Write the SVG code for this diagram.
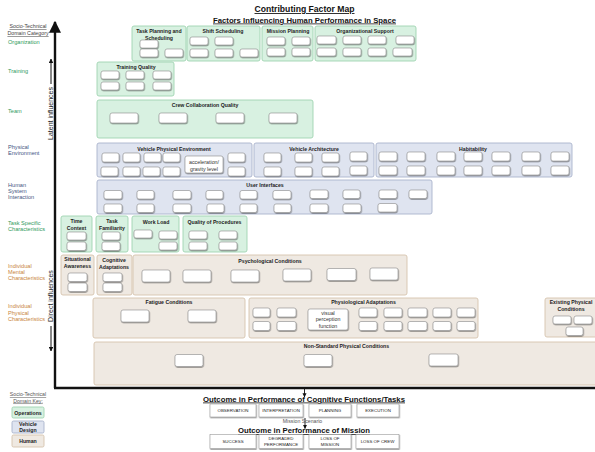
<svg xmlns="http://www.w3.org/2000/svg" width="595" height="452" viewBox="0 0 595 452">
<defs>
  <filter id="sh" x="-30%" y="-30%" width="160%" height="180%">
    <feDropShadow dx="0.5" dy="0.9" stdDeviation="0.5" flood-color="#000" flood-opacity="0.45"/>
  </filter>
  <marker id="ah" viewBox="0 0 10 10" refX="9" refY="5" markerWidth="4.5" markerHeight="4.5" orient="auto">
    <path d="M0,0 L10,5 L0,10 z" fill="#111"/>
  </marker>
  <marker id="ahs" viewBox="0 0 10 10" refX="9" refY="5" markerWidth="5" markerHeight="5" orient="auto">
    <path d="M0,0 L10,5 L0,10 z" fill="#111"/>
  </marker>
</defs>
<style>
  text { font-family: "Liberation Sans", Arial, sans-serif; }
  .ops { fill: #d8f1e1; stroke: #9fd4b1; stroke-width: 0.9; }
  .veh { fill: #dfe4f0; stroke: #a9b3cc; stroke-width: 0.9; }
  .hum { fill: #efe9e2; stroke: #d6c3ad; stroke-width: 0.9; }
  .b { fill: #fff; stroke: #8a8a8a; stroke-width: 0.6; filter: url(#sh); }
  .gt { font-size: 5.2px; font-weight: bold; fill: #222; text-anchor: middle; }
  .bt { font-size: 5.3px; fill: #333; text-anchor: middle; }
  .cat { font-size: 5.6px; }
  .cg { fill: #2f9a5c; }
  .cb { fill: #44557f; }
  .ch { fill: #c8843c; }
  .ttl { font-weight: bold; fill: #111; text-anchor: middle; text-decoration: underline; }
  .btn { fill: #fff; stroke: #999; stroke-width: 0.6; filter: url(#sh); }
  .btx { font-size: 4.4px; fill: #222; text-anchor: middle; }
  .ax { stroke: #111; fill: none; }
</style>

<!-- headings -->
<text class="ttl" x="304.5" y="12" font-size="8.6" textLength="100" lengthAdjust="spacingAndGlyphs">Contributing Factor Map</text>
<text class="ttl" x="304.5" y="22.5" font-size="7.9" textLength="183" lengthAdjust="spacingAndGlyphs">Factors Influencing Human Performance in Space</text>

<!-- socio-technical domain categories -->
<g id="categories">
  <text x="28" y="28" font-size="5.3" fill="#444" text-anchor="middle" text-decoration="underline">Socio-Technical</text>
  <text x="28" y="35" font-size="5.3" fill="#444" text-anchor="middle" text-decoration="underline">Domain Category</text>
  <text class="cat cg" x="8" y="43.5">Organization</text>
  <text class="cat cg" x="8" y="72.5">Training</text>
  <text class="cat cg" x="8" y="112.5">Team</text>
  <text class="cat cb" x="8" y="149">Physical</text>
  <text class="cat cb" x="8" y="155">Environment</text>
  <text class="cat cb" x="8" y="187">Human</text>
  <text class="cat cb" x="8" y="193">System</text>
  <text class="cat cb" x="8" y="199">Interaction</text>
  <text class="cat cg" x="8" y="225">Task Specific</text>
  <text class="cat cg" x="8" y="231">Characteristics</text>
  <text class="cat ch" x="8" y="267.5">Individual</text>
  <text class="cat ch" x="8" y="273.5">Mental</text>
  <text class="cat ch" x="8" y="280">Characteristics</text>
  <text class="cat ch" x="8" y="308">Individual</text>
  <text class="cat ch" x="8" y="314.5">Physical</text>
  <text class="cat ch" x="8" y="321">Characteristics</text>
</g>

<!-- axes and influence arrows -->
<g id="connectors">
  <path class="ax" d="M55,388 L55,22" stroke-width="2.4" marker-end="url(#ahs)"/>
  <path class="ax" d="M54,388 L596,388" stroke-width="2.4"/>
  <path class="ax" d="M51,84 L51,59" stroke-width="1" marker-end="url(#ah)"/>
  <path class="ax" d="M51,326 L51,351" stroke-width="1" marker-end="url(#ah)"/>
  <path class="ax" d="M304.5,389 L304.5,397" stroke-width="0.9" marker-end="url(#ah)"/>
  <path class="ax" d="M305,418 L305,428.5" stroke-width="0.9" marker-end="url(#ah)"/>
</g>
<text x="53" y="113.5" font-size="7" fill="#222" text-anchor="middle" transform="rotate(-90 53 113.5)">Latent influences</text>
<text x="53" y="296" font-size="7" fill="#222" text-anchor="middle" transform="rotate(-90 53 296)">Direct influences</text>

<!-- Organization -->
<g id="task-planning">
  <rect class="ops" x="132" y="26" width="54" height="35" rx="2"/>
  <text class="gt" x="159" y="33">Task Planning and</text>
  <text class="gt" x="159" y="39.5">Scheduling</text>
  <rect class="b" x="140" y="40" width="18" height="8" rx="2"/>
  <rect class="b" x="140" y="49" width="18" height="8" rx="2"/>
  <rect class="b" x="165" y="49" width="18" height="8" rx="2"/>
</g>
<g id="shift-scheduling">
  <rect class="ops" x="187" y="26" width="73" height="35" rx="2"/>
  <text class="gt" x="223" y="33">Shift Scheduling</text>
  <rect class="b" x="190" y="37" width="18" height="8" rx="2"/>
  <rect class="b" x="215" y="37" width="18" height="8" rx="2"/>
  <rect class="b" x="190" y="49" width="18" height="8" rx="2"/>
  <rect class="b" x="215" y="49" width="18" height="8" rx="2"/>
  <rect class="b" x="240" y="49" width="18" height="8" rx="2"/>
</g>
<g id="mission-planning">
  <rect class="ops" x="262" y="26" width="51" height="35" rx="2"/>
  <text class="gt" x="288" y="33">Mission Planning</text>
  <rect class="b" x="267" y="37" width="18" height="8" rx="2"/>
  <rect class="b" x="292" y="37" width="18" height="8" rx="2"/>
  <rect class="b" x="267" y="48" width="18" height="8" rx="2"/>
  <rect class="b" x="292" y="48" width="18" height="8" rx="2"/>
</g>
<g id="organizational-support">
  <rect class="ops" x="315" y="26" width="101" height="35" rx="2"/>
  <text class="gt" x="365" y="33">Organizational Support</text>
  <rect class="b" x="317" y="36" width="19" height="8" rx="2"/>
  <rect class="b" x="343" y="36" width="18" height="8" rx="2"/>
  <rect class="b" x="368" y="36" width="18" height="8" rx="2"/>
  <rect class="b" x="396" y="36" width="18" height="8" rx="2"/>
  <rect class="b" x="317" y="48" width="19" height="8" rx="2"/>
  <rect class="b" x="343" y="48" width="18" height="8" rx="2"/>
  <rect class="b" x="368" y="48" width="18" height="8" rx="2"/>
  <rect class="b" x="393" y="48" width="19" height="8" rx="2"/>
</g>

<!-- Training -->
<g id="training-quality">
  <rect class="ops" x="97" y="62" width="77" height="34" rx="2"/>
  <text class="gt" x="136" y="68.5">Training Quality</text>
  <rect class="b" x="101" y="71" width="18" height="8" rx="2"/>
  <rect class="b" x="126" y="71" width="18" height="8" rx="2"/>
  <rect class="b" x="153" y="71" width="18" height="8" rx="2"/>
  <rect class="b" x="101" y="82" width="18" height="8" rx="2"/>
  <rect class="b" x="126" y="82" width="18" height="8" rx="2"/>
  <rect class="b" x="153" y="82" width="18" height="8" rx="2"/>
</g>

<!-- Team -->
<g id="crew-collaboration">
  <rect class="ops" x="97" y="100" width="216" height="38" rx="2"/>
  <text class="gt" x="205" y="107">Crew Collaboration Quality</text>
  <rect class="b" x="110" y="113" width="28" height="10" rx="2"/>
  <rect class="b" x="159" y="113" width="28" height="10" rx="2"/>
  <rect class="b" x="216" y="113" width="28" height="10" rx="2"/>
  <rect class="b" x="269" y="113" width="28" height="10" rx="2"/>
</g>

<!-- Physical Environment -->
<g id="vehicle-physical-environment">
  <rect class="veh" x="97" y="143" width="155" height="34" rx="2"/>
  <text class="gt" x="174" y="151">Vehicle Physical Environment</text>
  <rect class="b" x="102" y="153" width="17" height="9" rx="2"/>
  <rect class="b" x="123" y="153" width="17" height="9" rx="2"/>
  <rect class="b" x="144" y="153" width="17" height="9" rx="2"/>
  <rect class="b" x="163" y="153" width="17" height="9" rx="2"/>
  <rect class="b" x="101" y="167" width="17" height="9" rx="2"/>
  <rect class="b" x="123" y="167" width="17" height="9" rx="2"/>
  <rect class="b" x="143" y="167" width="17" height="9" rx="2"/>
  <rect class="b" x="163" y="167" width="17" height="9" rx="2"/>
  <rect class="b" x="185" y="156" width="38" height="17" rx="2"/>
  <text class="bt" x="204" y="164">acceleration/</text>
  <text class="bt" x="204" y="170.5">gravity level</text>
  <rect class="b" x="228" y="153" width="17" height="9" rx="2"/>
  <rect class="b" x="228" y="167" width="17" height="9" rx="2"/>
</g>
<g id="vehicle-architecture">
  <rect class="veh" x="254" y="143" width="120" height="34" rx="2"/>
  <text class="gt" x="314" y="151">Vehicle Architecture</text>
  <rect class="b" x="264" y="153" width="17" height="9" rx="2"/>
  <rect class="b" x="295" y="153" width="17" height="9" rx="2"/>
  <rect class="b" x="322" y="153" width="17" height="9" rx="2"/>
  <rect class="b" x="350" y="152" width="17" height="9" rx="2"/>
  <rect class="b" x="264" y="167" width="17" height="9" rx="2"/>
  <rect class="b" x="295" y="167" width="17" height="9" rx="2"/>
  <rect class="b" x="322" y="167" width="17" height="9" rx="2"/>
  <rect class="b" x="350" y="166" width="17" height="9" rx="2"/>
</g>
<g id="habitability">
  <rect class="veh" x="376" y="143" width="196" height="34" rx="2"/>
  <text class="gt" x="473" y="151">Habitability</text>
  <rect class="b" x="379" y="152" width="18" height="9" rx="2"/>
  <rect class="b" x="407" y="152" width="18" height="9" rx="2"/>
  <rect class="b" x="437" y="152" width="18" height="9" rx="2"/>
  <rect class="b" x="464" y="152" width="18" height="9" rx="2"/>
  <rect class="b" x="492" y="152" width="18" height="9" rx="2"/>
  <rect class="b" x="522" y="152" width="18" height="9" rx="2"/>
  <rect class="b" x="551" y="152" width="18" height="9" rx="2"/>
  <rect class="b" x="379" y="166" width="18" height="9" rx="2"/>
  <rect class="b" x="407" y="166" width="18" height="9" rx="2"/>
  <rect class="b" x="437" y="166" width="18" height="9" rx="2"/>
  <rect class="b" x="464" y="166" width="18" height="9" rx="2"/>
  <rect class="b" x="492" y="166" width="18" height="9" rx="2"/>
  <rect class="b" x="522" y="166" width="18" height="9" rx="2"/>
  <rect class="b" x="551" y="166" width="18" height="9" rx="2"/>
</g>

<!-- Human System Interaction -->
<g id="user-interfaces">
  <rect class="veh" x="97" y="180" width="335" height="34" rx="2"/>
  <text class="gt" x="265" y="187">User Interfaces</text>
  <rect class="b" x="104" y="190.5" width="18" height="8.5" rx="2"/>
  <rect class="b" x="137" y="190.5" width="17" height="8.5" rx="2"/>
  <rect class="b" x="173" y="190.5" width="18" height="8.5" rx="2"/>
  <rect class="b" x="206" y="190.5" width="17" height="8.5" rx="2"/>
  <rect class="b" x="240" y="190.5" width="17" height="8.5" rx="2"/>
  <rect class="b" x="273" y="190.5" width="18" height="8.5" rx="2"/>
  <rect class="b" x="310" y="190" width="18" height="8.5" rx="2"/>
  <rect class="b" x="343" y="190" width="17" height="8.5" rx="2"/>
  <rect class="b" x="379" y="190" width="18" height="8.5" rx="2"/>
  <rect class="b" x="409" y="190" width="18" height="8.5" rx="2"/>
  <rect class="b" x="104" y="204" width="18" height="8.5" rx="2"/>
  <rect class="b" x="137" y="204" width="17" height="8.5" rx="2"/>
  <rect class="b" x="173" y="204" width="18" height="8.5" rx="2"/>
  <rect class="b" x="207" y="204" width="17" height="8.5" rx="2"/>
  <rect class="b" x="240" y="204" width="17" height="8.5" rx="2"/>
  <rect class="b" x="274" y="204" width="17" height="8.5" rx="2"/>
  <rect class="b" x="310" y="204" width="18" height="8.5" rx="2"/>
  <rect class="b" x="343" y="204" width="18" height="8.5" rx="2"/>
  <rect class="b" x="378" y="203.5" width="19" height="8.5" rx="2"/>
</g>

<!-- Task Specific Characteristics -->
<g id="time-context">
  <rect class="ops" x="61" y="216" width="31" height="36" rx="2"/>
  <text class="gt" x="76.5" y="223">Time</text>
  <text class="gt" x="76.5" y="230">Context</text>
  <rect class="b" x="67" y="232" width="19" height="8" rx="2"/>
  <rect class="b" x="67" y="242" width="19" height="8.5" rx="2"/>
</g>
<g id="task-familiarity">
  <rect class="ops" x="96" y="216" width="32" height="36" rx="2"/>
  <text class="gt" x="112" y="223">Task</text>
  <text class="gt" x="112" y="230">Familiarity</text>
  <rect class="b" x="102" y="232" width="18" height="8" rx="2"/>
  <rect class="b" x="102" y="242" width="18" height="8.5" rx="2"/>
</g>
<g id="work-load">
  <rect class="ops" x="132" y="216" width="47" height="36" rx="2"/>
  <text class="gt" x="156" y="223.5">Work Load</text>
  <rect class="b" x="134" y="230" width="18" height="8" rx="2"/>
  <rect class="b" x="159" y="231" width="18" height="8" rx="2"/>
  <rect class="b" x="159" y="242" width="18" height="8" rx="2"/>
</g>
<g id="quality-of-procedures">
  <rect class="ops" x="183" y="216" width="64" height="36" rx="2"/>
  <text class="gt" x="214.5" y="223.5">Quality of Procedures</text>
  <rect class="b" x="189" y="231" width="18" height="8" rx="2"/>
  <rect class="b" x="219" y="231" width="18" height="8" rx="2"/>
  <rect class="b" x="189" y="242" width="18" height="8" rx="2"/>
  <rect class="b" x="219" y="242" width="18" height="8" rx="2"/>
</g>

<!-- Individual Mental Characteristics -->
<g id="situational-awareness">
  <rect class="hum" x="61" y="255" width="33" height="40" rx="2"/>
  <text class="gt" x="77.5" y="260.5">Situational</text>
  <text class="gt" x="77.5" y="267.5">Awareness</text>
  <rect class="b" x="68" y="273" width="19" height="8.5" rx="2"/>
  <rect class="b" x="68" y="283" width="19" height="8.5" rx="2"/>
</g>
<g id="cognitive-adaptations">
  <rect class="hum" x="97" y="255" width="35" height="40" rx="2"/>
  <text class="gt" x="114" y="261.5">Cognitive</text>
  <text class="gt" x="114" y="268.5">Adaptations</text>
  <rect class="b" x="103" y="273" width="19" height="8.5" rx="2"/>
  <rect class="b" x="103" y="283" width="19" height="8.5" rx="2"/>
</g>
<g id="psychological-conditions">
  <rect class="hum" x="133" y="255" width="274" height="40" rx="2"/>
  <text class="gt" x="270" y="262.5">Psychological Conditions</text>
  <rect class="b" x="142" y="270" width="28" height="12" rx="2"/>
  <rect class="b" x="183" y="270" width="28" height="12" rx="2"/>
  <rect class="b" x="231" y="270" width="28" height="12" rx="2"/>
  <rect class="b" x="283" y="269" width="28" height="12" rx="2"/>
  <rect class="b" x="327" y="268.5" width="29" height="12" rx="2"/>
  <rect class="b" x="370" y="268" width="28" height="12" rx="2"/>
</g>

<!-- Individual Physical Characteristics -->
<g id="fatigue-conditions">
  <rect class="hum" x="93" y="298" width="152" height="40" rx="2"/>
  <text class="gt" x="169" y="304">Fatigue Conditions</text>
  <rect class="b" x="121" y="310" width="28" height="12" rx="2"/>
  <rect class="b" x="188" y="310" width="28" height="12" rx="2"/>
</g>
<g id="physiological-adaptations">
  <rect class="hum" x="249" y="298" width="229" height="40" rx="2"/>
  <text class="gt" x="363.5" y="304">Physiological Adaptations</text>
  <rect class="b" x="253" y="308" width="17" height="9" rx="2"/>
  <rect class="b" x="277" y="308" width="19" height="9" rx="2"/>
  <rect class="b" x="253" y="321.5" width="17" height="9" rx="2"/>
  <rect class="b" x="277" y="321.5" width="19" height="9" rx="2"/>
  <rect class="b" x="308" y="309" width="40" height="21" rx="2"/>
  <text class="bt" x="328" y="314.5" font-size="5.5">visual</text>
  <text class="bt" x="328" y="321" font-size="5.5">perception</text>
  <text class="bt" x="328" y="327.5" font-size="5.5">function</text>
  <rect class="b" x="359" y="308" width="18" height="9" rx="2"/>
  <rect class="b" x="384" y="308" width="18" height="9" rx="2"/>
  <rect class="b" x="408" y="308" width="19" height="9" rx="2"/>
  <rect class="b" x="433" y="308" width="18" height="9" rx="2"/>
  <rect class="b" x="457" y="308" width="18" height="9" rx="2"/>
  <rect class="b" x="359" y="321.5" width="18" height="9" rx="2"/>
  <rect class="b" x="384" y="321.5" width="18" height="9" rx="2"/>
  <rect class="b" x="408" y="321.5" width="19" height="9" rx="2"/>
  <rect class="b" x="433" y="321.5" width="18" height="9" rx="2"/>
  <rect class="b" x="457" y="321.5" width="18" height="9" rx="2"/>
</g>
<g id="existing-physical-conditions">
  <rect class="hum" x="545" y="298" width="56" height="39" rx="2"/>
  <text class="gt" x="571" y="303.5">Existing Physical</text>
  <text class="gt" x="571" y="311">Conditions</text>
  <rect class="b" x="553" y="316" width="18" height="8" rx="2"/>
  <rect class="b" x="574" y="316" width="18" height="8" rx="2"/>
  <rect class="b" x="566" y="327" width="17" height="8.5" rx="2"/>
</g>
<g id="non-standard-physical-conditions">
  <rect class="hum" x="94" y="342" width="507" height="43" rx="2"/>
  <text class="gt" x="346.5" y="347.5">Non-Standard Physical Conditions</text>
  <rect class="b" x="175" y="354.5" width="28" height="12" rx="2"/>
  <rect class="b" x="304" y="354.5" width="28" height="12" rx="2"/>
  <rect class="b" x="429" y="354" width="29" height="12" rx="2"/>
</g>

<!-- outcomes -->
<g id="cognitive-outcome">
  <text class="ttl" x="304" y="401.5" font-size="7.8" textLength="202" lengthAdjust="spacingAndGlyphs">Outcome in Performance of Cognitive Functions/Tasks</text>
  <rect class="btn" x="210" y="404" width="46" height="13"/>
  <text class="btx" x="233" y="412.2">OBSERVATION</text>
  <rect class="btn" x="259" y="404" width="44" height="13"/>
  <text class="btx" x="281" y="412.2">INTERPRETATION</text>
  <rect class="btn" x="309" y="404" width="42" height="13"/>
  <text class="btx" x="330" y="412.2">PLANNING</text>
  <rect class="btn" x="357" y="404" width="42" height="13"/>
  <text class="btx" x="378" y="412.2">EXECUTION</text>
</g>
<text x="302.5" y="423" font-size="5.2" fill="#555" text-anchor="middle">Mission Scenario</text>
<g id="mission-outcome">
  <text class="ttl" x="304" y="433" font-size="7.8" textLength="132" lengthAdjust="spacingAndGlyphs">Outcome in Performance of Mission</text>
  <rect class="btn" x="210" y="434.5" width="46" height="14"/>
  <text class="btx" x="233" y="443">SUCCESS</text>
  <rect class="btn" x="259" y="434.5" width="44" height="14"/>
  <text class="btx" x="281" y="440">DEGRADED</text>
  <text class="btx" x="281" y="446">PERFORMANCE</text>
  <rect class="btn" x="309" y="434.5" width="42" height="14"/>
  <text class="btx" x="330" y="440">LOSS OF</text>
  <text class="btx" x="330" y="446">MISSION</text>
  <rect class="btn" x="356" y="434.5" width="43" height="14"/>
  <text class="btx" x="377.5" y="443">LOSS OF CREW</text>
</g>

<!-- domain key -->
<g id="domain-key">
  <text x="28" y="396" font-size="5.2" fill="#555" text-anchor="middle" text-decoration="underline">Socio-Technical</text>
  <text x="28" y="402.5" font-size="5.2" fill="#555" text-anchor="middle" text-decoration="underline">Domain Key:</text>
  <rect class="ops" x="12" y="407" width="32" height="11" rx="1.5"/>
  <text class="gt" x="28" y="414.5" font-size="5.2">Operations</text>
  <rect class="veh" x="12" y="421" width="32" height="12" rx="1.5"/>
  <text class="gt" x="28" y="426">Vehicle</text>
  <text class="gt" x="28" y="432">Design</text>
  <rect class="hum" x="12" y="435" width="32" height="12" rx="1.5"/>
  <text class="gt" x="28" y="443">Human</text>
</g>
</svg>
